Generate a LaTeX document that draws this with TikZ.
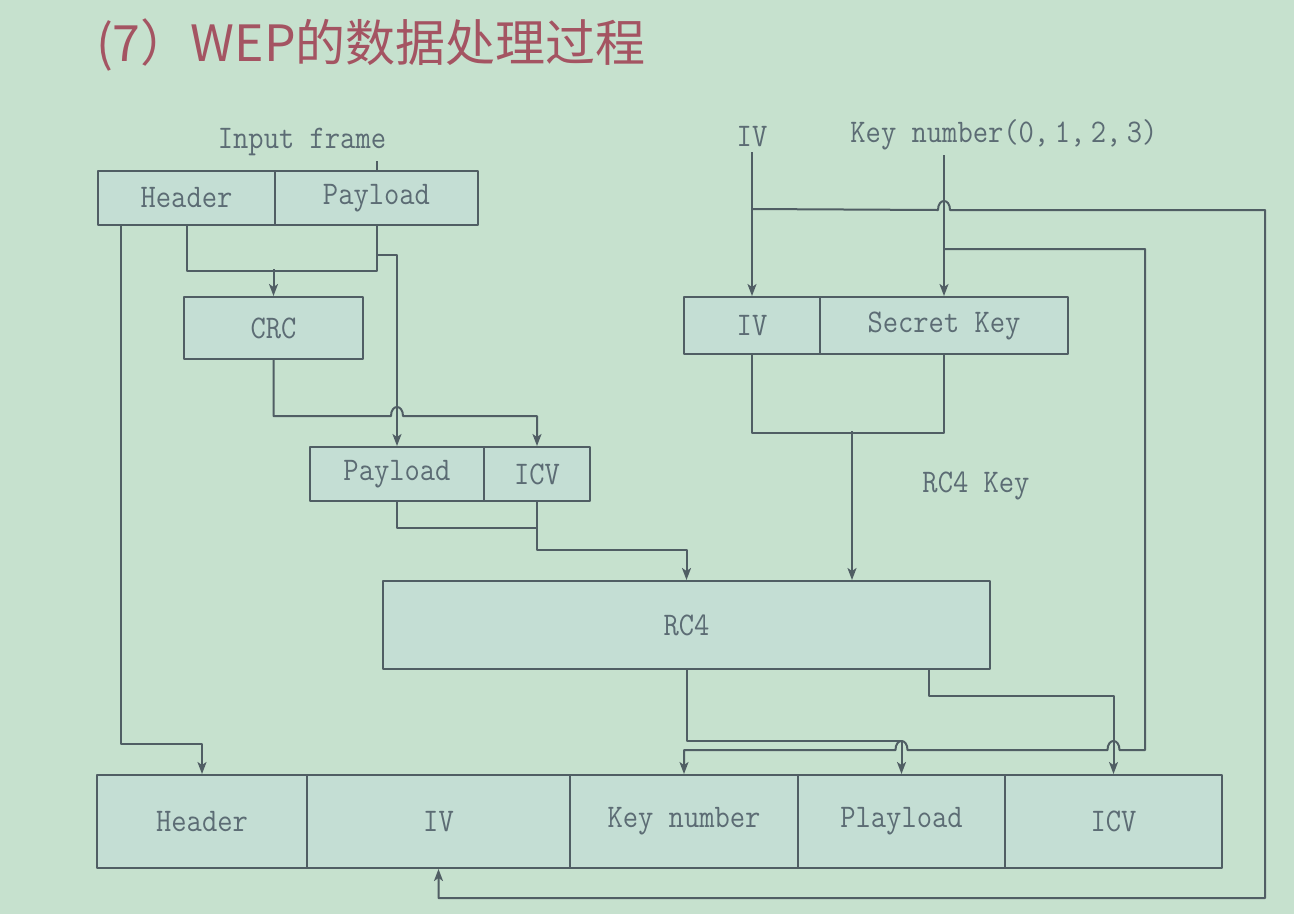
\documentclass[tikz,border=0pt]{standalone}
\usepackage{fontspec}
\usetikzlibrary{arrows.meta,calc}
\newfontfamily\cjkfont{Noto Sans CJK SC}
\newfontfamily\labelfont[FakeStretch=0.9]{Latin Modern Mono}
\definecolor{bgc}{RGB}{198,225,206}
\definecolor{boxc}{RGB}{196,222,212}
\definecolor{linec}{RGB}{80,94,100}
\definecolor{txtc}{RGB}{92,108,116}
\definecolor{titlec}{RGB}{164,84,98}
\begin{document}
\begin{tikzpicture}[x=1pt,y=-1pt,line width=2pt,line join=round,
  box/.style={draw=linec,fill=boxc,inner sep=0pt,text=txtc,
    font=\labelfont\fontsize{33}{33}\selectfont},
  lbl/.style={inner sep=0pt,text=txtc,font=\labelfont\fontsize{33}{33}\selectfont},
  wire/.style={draw=linec},
  arr/.style={draw=linec,-{Stealth[length=12pt,width=9pt,inset=3pt]}}]
% page and background
\useasboundingbox (0,0) rectangle (1294,914);
\fill[bgc] (0,0) rectangle (1294,914);

% title
\node[anchor=west,inner sep=0pt,text=titlec,font=\cjkfont\fontsize{50}{54}\selectfont]
  (title) at (95,45) {(7）WEP的数据处理过程};

% input frame
\node[lbl] (inlbl) at (302,142) {Input frame};
\node[box,minimum width=177,minimum height=54] (inhdr) at (186.5,198) {Header};
\node[box,minimum width=203,minimum height=54] (inpl) at (376.5,198) {Payload};

% CRC
\node[box,minimum width=179,minimum height=62] (crc) at (273.5,328) {CRC};

% payload + ICV
\node[box,minimum width=174,minimum height=54] (pl) at (397,474) {Payload};
\node[box,minimum width=106,minimum height=54] (icv) at (537,474) {ICV};

% IV + secret key
\node[lbl] (ivlbl) at (752,137) {IV};
\node[lbl] (knlbl) at (1004,135) {Key number(0,\,1,\,2,\,3)};
\node[box,minimum width=136,minimum height=57] (iv) at (752,325.5) {IV};
\node[box,minimum width=248,minimum height=57] (sk) at (944,325.5) {Secret Key};
\node[lbl] (rc4key) at (976,486) {RC4 Key};

% RC4
\node[box,minimum width=607,minimum height=88] (rc4) at (686.5,625) {RC4};

% output frame
\begin{scope}[every node/.style={box,minimum height=93}]
\node[minimum width=210] (ohdr) at (202,821.5) {Header};
\node[minimum width=263] (oiv) at (438.5,821.5) {IV};
\node[minimum width=228] (okn) at (684,821.5) {Key number};
\node[minimum width=207] (opl) at (901.5,821.5) {Playload};
\node[minimum width=217] (oicv) at (1113.5,821.5) {ICV};
\end{scope}

% input frame wiring
\draw[wire] (inpl.north) -- ++(0,-9);
\draw[arr] ($(inhdr.south west)+(24,0)$) |- ($(ohdr.north)+(0,-30)$) -- (ohdr.north);
\draw[wire] (inhdr.south) -- ++(0,45) -| (inpl.south);
\draw[arr] ($(crc.north)+(0,-27)$) -- (crc.north);
\draw[arr] ($(inpl.south)+(0,29)$) -| (pl.north);
\draw[arr] (crc.south) |- (391,416) .. controls (391,404) and (403,404) .. (403,416) -| (icv.north);

% into RC4
\draw[wire] (pl.south) -- ++(0,26) -| (icv.south);
\draw[arr] (icv.south) |- ($(rc4.north)+(0,-30)$) -- (rc4.north);
\draw[wire] (iv.south) -- ++(0,78) -| (sk.south);
\draw[arr] ($(rc4.north west)+(470,-149)$) -- ($(rc4.north west)+(470,0)$);

% key inputs
\draw[arr] ($(ivlbl.south)+(0,4)$) -- (iv.north);
\draw[arr] (sk.north |- 0,155) -- (sk.north);

% IV copied into the output frame
\draw[arr] ($(iv.north)+(0,-87)$) -- (938,210)
  .. controls (938,198) and (950,198) .. (950,210)
  -- (1265,210) |- ($(oiv.south)+(0,29)$) -- (oiv.south);

% key number copied into the output frame
\draw[arr] ($(sk.north)+(0,-47)$) -| (1145,750) -- (1119.5,750)
  .. controls (1119.5,738) and (1107.5,738) .. (1107.5,750)
  -- (907.5,750)
  .. controls (907.5,738) and (895.5,738) .. (895.5,750)
  -| (okn.north);

% RC4 outputs
\draw[arr] (rc4.south) |- (901.5,741) -- (opl.north);
\draw[arr] ($(rc4.south east)+(-62,0)$) |- ($(oicv.north)+(0,-78)$) -- (oicv.north);
\end{tikzpicture}
\end{document}
